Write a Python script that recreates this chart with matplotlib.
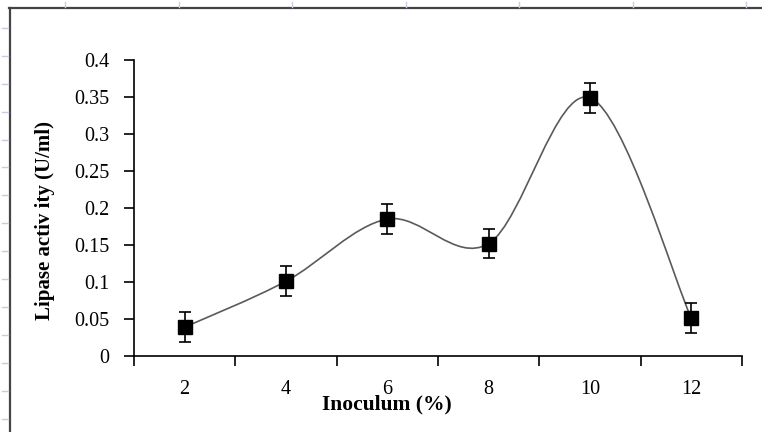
import numpy as np
import matplotlib
matplotlib.use("Agg")
import matplotlib.pyplot as plt
from matplotlib.lines import Line2D
from matplotlib.path import Path
from matplotlib.patches import PathPatch

# Inoculum size vs lipase activity
inoculum = ["2", "4", "6", "8", "10", "12"]
activity = [0.039, 0.101, 0.185, 0.152, 0.349, 0.051]
errors = [0.02, 0.02, 0.02, 0.02, 0.02, 0.02]

plt.rcParams["font.family"] = "Liberation Serif"

W, H = 762, 432
fig = plt.figure(figsize=(W / 100, H / 100), dpi=100)
ax = fig.add_axes([134 / W, 1 - 356 / H, (742 - 134) / W, (356 - 60) / H])

x = np.arange(len(inoculum))
y = np.array(activity)

# Excel style smoothed line (cubic bezier through the points)
verts = [(x[0], y[0])]
codes = [Path.MOVETO]
n = len(x)
for i in range(n - 1):
    p0 = np.array([x[max(i - 1, 0)], y[max(i - 1, 0)]])
    p1 = np.array([x[i], y[i]])
    p2 = np.array([x[i + 1], y[i + 1]])
    p3 = np.array([x[min(i + 2, n - 1)], y[min(i + 2, n - 1)]])
    c1 = p1 + (p2 - p0) / 6
    c2 = p2 - (p3 - p1) / 6
    verts += [tuple(c1), tuple(c2), tuple(p2)]
    codes += [Path.CURVE4] * 3
ax.add_patch(PathPatch(Path(verts, codes), fill=False, edgecolor="#5a5a5a",
                       lw=1.2, zorder=2))

ax.errorbar(x, y, yerr=errors, fmt="s", color="black", ms=10, capsize=4.5,
            elinewidth=1.2, capthick=1.2, zorder=3)

ax.set_xlim(-0.5, 5.5)
ax.set_ylim(0, 0.4)
ax.set_xticks(np.arange(-0.5, 6, 1))
ax.set_xticklabels([])
ax.set_xticks(x, minor=True)
ax.set_xticklabels(inoculum, minor=True)
ax.tick_params(axis="x", which="minor", length=0, pad=17, labelsize=14.5)
ax.tick_params(axis="x", which="major", length=7, width=1.2, direction="out")
ax.set_yticks(np.arange(0, 0.41, 0.05))
ax.set_yticklabels(["0", "0.05", "0.1", "0.15", "0.2", "0.25", "0.3", "0.35", "0.4"])
ax.tick_params(axis="y", length=7, width=1.2, direction="out", pad=10.8, labelsize=14.5)
ax.spines["top"].set_visible(False)
ax.spines["right"].set_visible(False)
for s in ("left", "bottom"):
    ax.spines[s].set_linewidth(1.2)

fig.text(387 / W, 1 - 404 / H, "Inoculum (%)", ha="center", va="center",
         fontsize=15.5, fontweight="bold")
fig.text(45 / W, 1 - 220 / H, "Lipase activ ity (U/ml)", ha="center", va="center",
         rotation=90, fontsize=15, fontweight="bold")

# page border of the scanned figure
fig.add_artist(Line2D([9.5 / W, 9.5 / W], [0, 1 - 8 / H], color="#444444", lw=1.6))
fig.add_artist(Line2D([9 / W, 1], [1 - 8 / H, 1 - 8 / H], color="#444444", lw=1.6))
for yy in np.arange(28, H, 27.9):
    fig.add_artist(Line2D([2 / W, 8 / W], [1 - yy / H] * 2, color="#c8cce0", lw=1))
for xx in np.arange(65, W, 113.5):
    fig.add_artist(Line2D([xx / W] * 2, [1 - 2 / H, 1 - 7 / H], color="#c8cce0", lw=1))

fig.savefig("out.png", dpi=100, facecolor="white")
